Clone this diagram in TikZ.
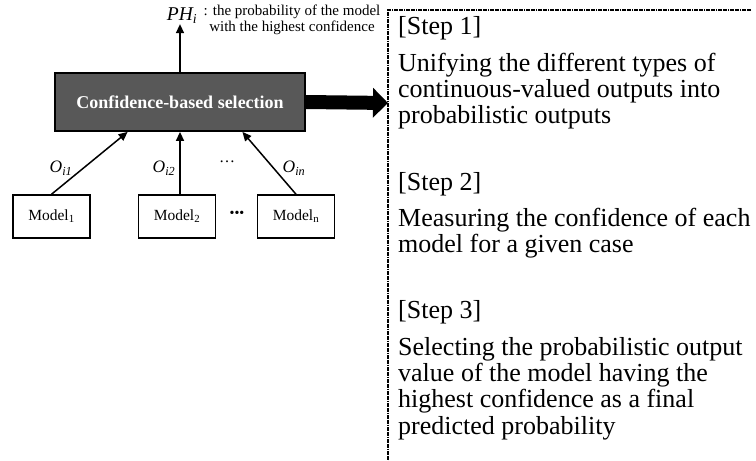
\documentclass[tikz,border=0pt]{standalone}
\usepackage{fontspec}
\setmainfont{Liberation Serif}
\usetikzlibrary{
  calc,positioning,
  arrows.meta
}

\definecolor{selgray}{RGB}{88,88,88}

\tikzset{
  selbox/.style={draw,fill=selgray,line width=1.8pt,minimum width=250pt,
    minimum height=58pt,text=white,font=\fontsize{18}{20}\selectfont\bfseries},
  modelbox/.style={draw,line width=1.5pt,minimum width=77pt,minimum height=43pt,
    inner sep=0pt,font=\fontsize{15.5}{16}\selectfont},
  feed/.style={line width=1.5pt,-{Triangle[length=9pt,width=8pt]}},
  outlabel/.style={inner sep=0pt,font=\fontsize{17.5}{17}\selectfont\itshape},
  stephead/.style={anchor=base west,inner sep=0pt,font=\fontsize{26}{26}\selectfont},
  stepbody/.style={anchor=north west,inner sep=0pt,align=left,
    font=\fontsize{26}{26.3}\selectfont},
  stepframe/.style={line width=2.5pt,dash pattern=on 1.8pt off 0.6pt}
}

\begin{document}
\begin{tikzpicture}[x=1pt,y=-1pt]
\useasboundingbox (0,0) rectangle (756,461);

% selection block and the models feeding it
\node[selbox] (sel) at (180,102) {Confidence-based selection};
\node[modelbox] (m1) at (51.5,216.5) {Model\textsubscript{1}};
\node[modelbox] (m2) at (177,216.5) {Model\textsubscript{2}};
\node[modelbox] (mn) at (296,216.5) {Model\textsubscript{n}};

\draw[feed] (m1.north) -- ($(sel.south west)!0.292!(sel.south east)$);
\draw[feed] (sel.south |- m2.north) -- (sel.south);
\draw[feed] (mn.north) -- ($(sel.south west)!0.748!(sel.south east)$);

\node[outlabel] (o1) at (61,168) {O\textsubscript{i1}};
\node[outlabel] (o2) at (164,168) {O\textsubscript{i2}};
\node[outlabel] (on) at (294,168) {O\textsubscript{in}};
\node[inner sep=0pt,font=\fontsize{16}{16}\selectfont] (dotsup) at (227,162) {…};
\node[inner sep=0pt,font=\fontsize{14}{14}\selectfont] (dotsdn) at (237,214) {•••};

% output on top
\node[inner sep=0pt,font=\fontsize{19.5}{19}\selectfont\itshape] (ph) at (182,16)
  {PH\textsubscript{i}};
\node[inner sep=0pt,align=center,font=\fontsize{15}{15.5}\selectfont] (note) at (292,20)
  {: the probability of the model\\with the highest confidence};
\draw[feed] (sel.north) -- (sel.north |- ph.south);

% fat arrow into the steps
\coordinate (hit) at (388,103);
\draw[line width=14pt,-{Triangle[length=15pt,width=29pt]}] (sel.east) -- (hit);

% steps, open frame
\draw[stepframe] (751,10) -- (388,10) -- (388,461);

\node[stephead] (h1) at (398,34) {[Step 1]};
\node[stepbody] (b1) at (398,52.5) {Unifying the different types of\\
  continuous-valued outputs into\\probabilistic outputs};
\node[stephead] (h2) at (398,190) {[Step 2]};
\node[stepbody] (b2) at (398,208) {Measuring the confidence of each\\
  model for a given case};
\node[stephead] (h3) at (398,318) {[Step 3]};
\node[stepbody] (b3) at (398,337) {Selecting the probabilistic output\\
  value of the model having the\\highest confidence as a final\\
  predicted probability};
\end{tikzpicture}
\end{document}
